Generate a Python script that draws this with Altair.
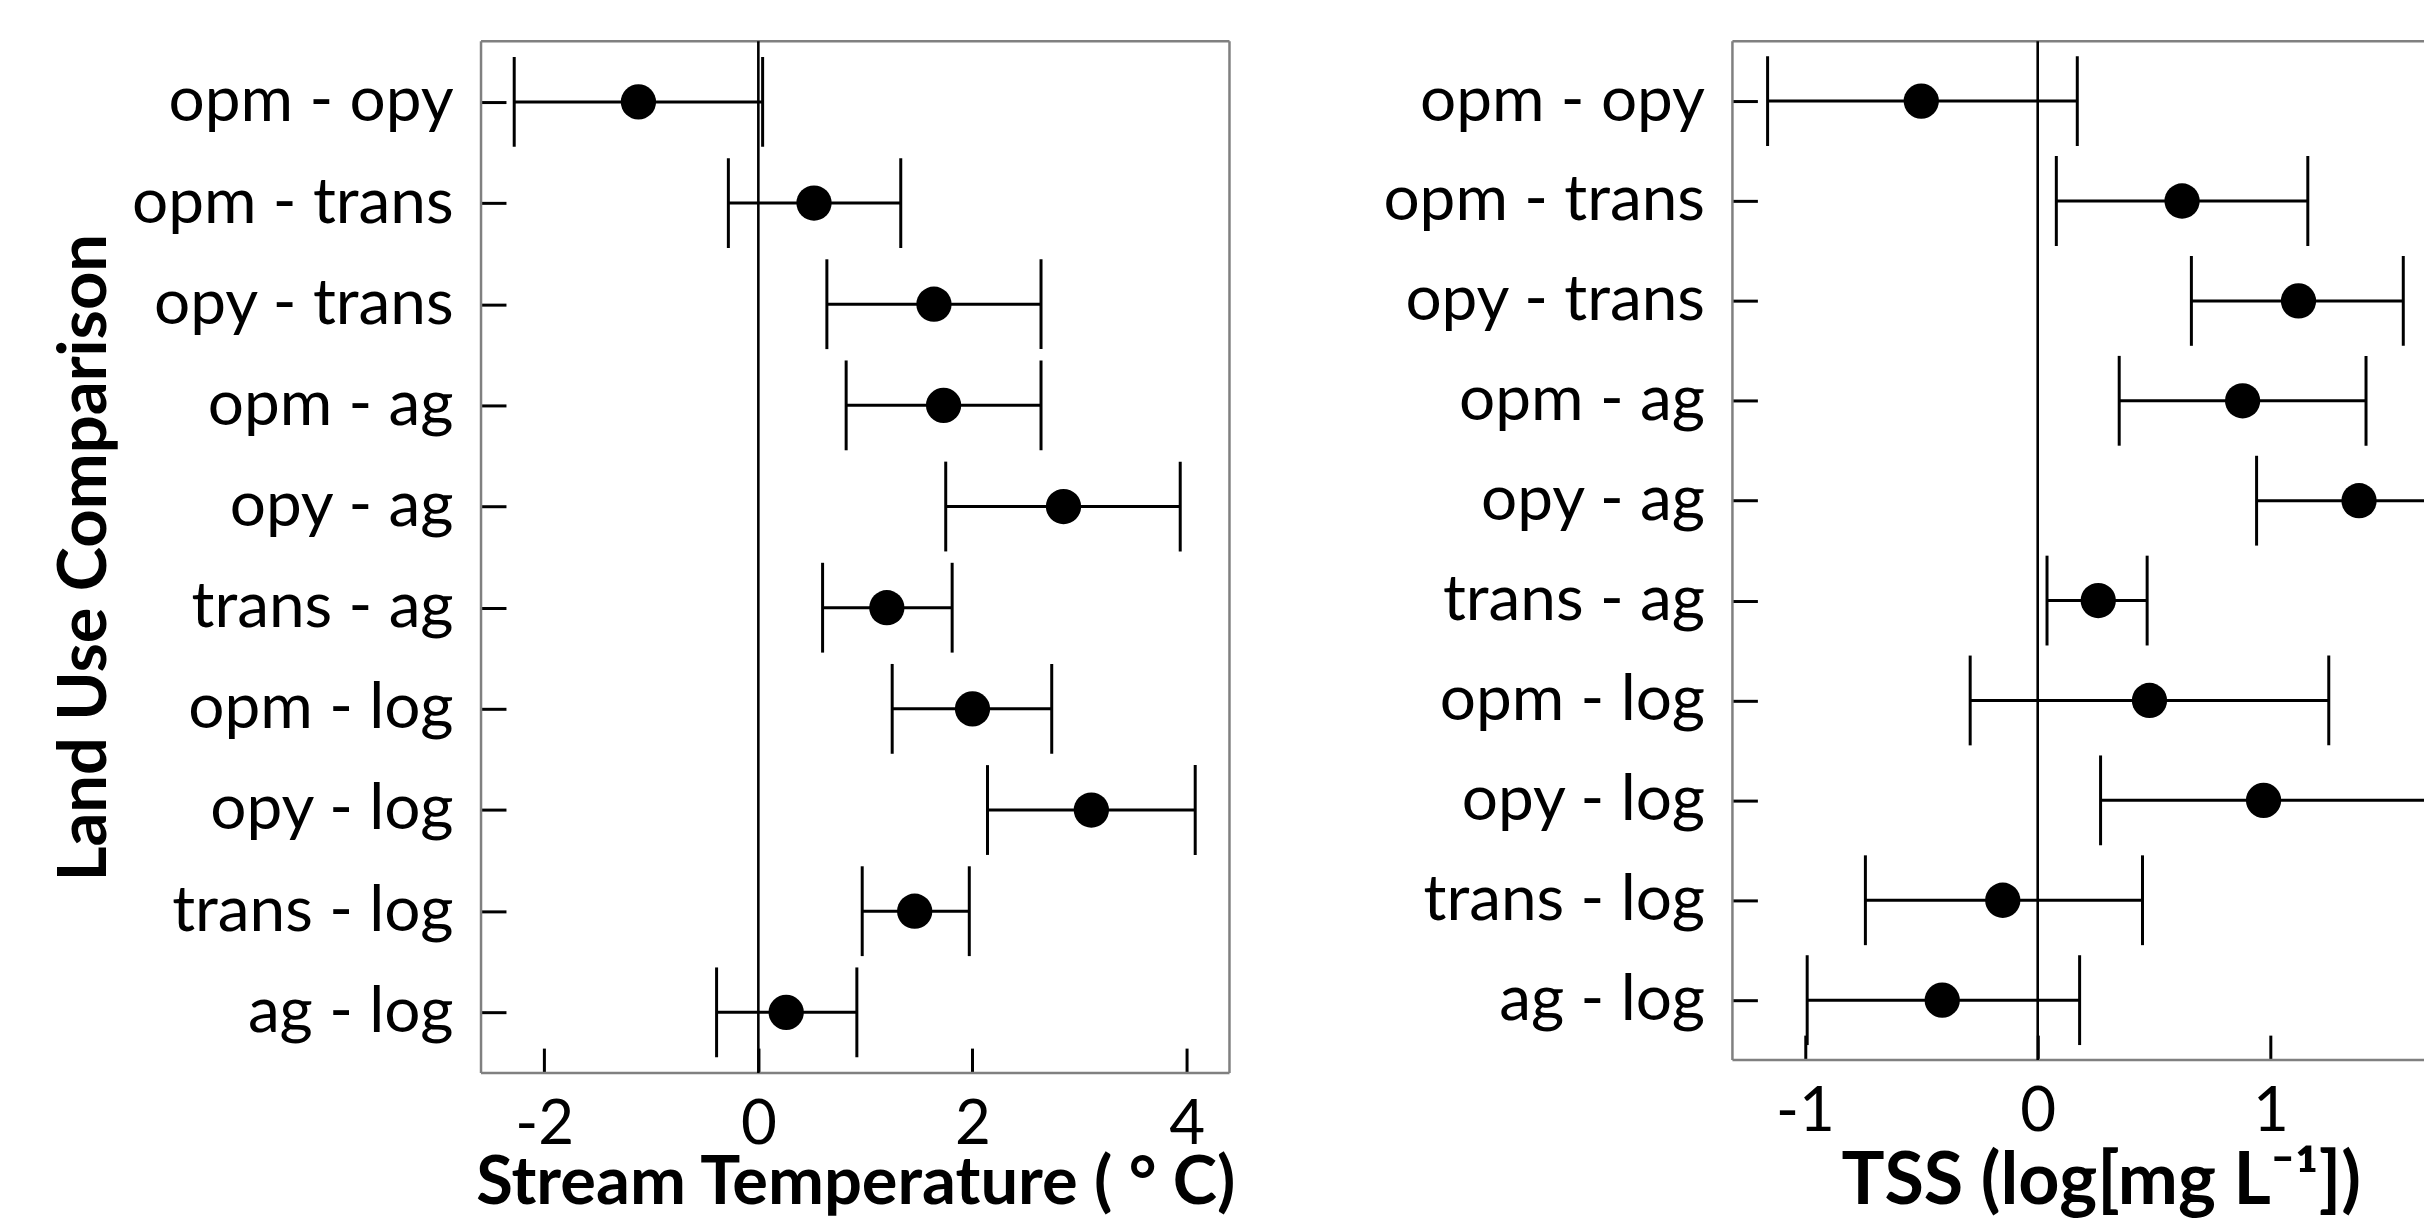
import altair as alt
import pandas as pd

comparisons = ["opm - opy", "opm - trans", "opy - trans", "opm - ag", "opy - ag",
               "trans - ag", "opm - log", "opy - log", "trans - log", "ag - log"]

temp_est = [-1.12, 0.52, 1.64, 1.73, 2.85, 1.20, 2.00, 3.11, 1.46, 0.26]
temp_lo = [-2.28, -0.28, 0.64, 0.82, 1.75, 0.60, 1.25, 2.14, 0.97, -0.39]
temp_hi = [0.04, 1.33, 2.64, 2.64, 3.94, 1.81, 2.74, 4.08, 1.97, 0.92]

tss_est = [-0.50, 0.62, 1.12, 0.88, 1.38, 0.26, 0.48, 0.97, -0.15, -0.41]
tss_lo = [-1.16, 0.08, 0.66, 0.35, 0.94, 0.04, -0.29, 0.27, -0.74, -0.99]
tss_hi = [0.17, 1.16, 1.57, 1.41, 1.81, 0.47, 1.25, 1.68, 0.45, 0.18]

temp_ticks = [-2, 0, 2, 4]
tss_ticks = [-1, 0, 1]

FONT = "Lato"
FS = 64
XFS = 62
GRAY = "#808080"


def make_panel(est, lo, hi, xdom, ticks, xtitle, ytitle, w, h, right_side,
               title_fs, title_pad, title_x=None):
    df = pd.DataFrame({"comparison": comparisons, "est": est, "lo": lo, "hi": hi})
    ysc = alt.Scale(type="point", padding=0.6, domain=comparisons)
    xsc = alt.Scale(domain=xdom, nice=False, zero=False, clamp=True)
    xk = dict(values=ticks, title=xtitle, offset=-25, tickSize=25, tickWidth=3,
              tickColor="black", domain=False, grid=False, labelFont=FONT,
              labelFontSize=XFS, labelColor="black", labelPadding=22, labelLimit=0,
              labelExpr="'' + datum.value", titleFont=FONT, titleFontSize=title_fs,
              titleFontWeight="bold", titleColor="black", titlePadding=title_pad,
              maxExtent=600)
    if title_x is not None:
        xk["titleX"] = title_x
    xax = alt.Axis(**xk)
    yk = dict(offset=-25, tickSize=25, tickWidth=3, tickColor="black", domain=False,
              grid=False, labelFont=FONT, labelFontSize=FS, labelColor="black",
              labelPadding=28, labelLimit=0, maxExtent=600)
    if ytitle:
        yk.update(title=ytitle, titleFont=FONT, titleFontSize=67, titleFontWeight="bold",
                  titleColor="black", titlePadding=12)
    else:
        yk.update(title=None)
    yax = alt.Axis(**yk)
    Y = alt.Y("comparison:N", scale=ysc, sort=comparisons, axis=yax)
    base = alt.Chart(df)

    zero = alt.Chart(pd.DataFrame({"zero": [0]})).mark_rule(
        color="black", strokeWidth=2.6).encode(x=alt.X("zero:Q", scale=xsc, axis=xax))
    bars = base.mark_rule(color="black", strokeWidth=3, clip=True).encode(
        x=alt.X("lo:Q", scale=xsc, axis=xax), x2="hi:Q", y=Y)
    cap_lo = base.transform_filter(f"datum.lo >= {xdom[0]}").mark_tick(
        color="black", thickness=3, size=90, opacity=1, clip=True).encode(
        x=alt.X("lo:Q", scale=xsc, axis=xax), y=Y)
    cap_hi = base.transform_filter(f"datum.hi <= {xdom[1]}").mark_tick(
        color="black", thickness=3, size=90, opacity=1, clip=True).encode(
        x=alt.X("hi:Q", scale=xsc, axis=xax), y=Y)
    pts = base.mark_circle(size=1250, color="black", opacity=1, clip=True).encode(
        x=alt.X("est:Q", scale=xsc, axis=xax), y=Y)

    one = alt.Chart(pd.DataFrame({"a": [0]}))
    frame = [
        one.mark_rule(color=GRAY, strokeWidth=2.5).encode(
            x=alt.value(0), x2=alt.value(w), y=alt.value(0)),
        one.mark_rule(color=GRAY, strokeWidth=2.5).encode(
            x=alt.value(0), y=alt.value(0), y2=alt.value(h)),
        one.mark_rule(color=GRAY, strokeWidth=2.5).encode(
            x=alt.value(0), x2=alt.value(w), y=alt.value(h)),
    ]
    if right_side:
        frame.append(one.mark_rule(color=GRAY, strokeWidth=2.5).encode(
            x=alt.value(w), y=alt.value(0), y2=alt.value(h)))
    layers = frame + [zero, bars, cap_lo, cap_hi, pts]
    return alt.layer(*layers).properties(width=w, height=h)


left_panel = make_panel(temp_est, temp_lo, temp_hi, [-2.59, 4.40], temp_ticks,
                        "Stream Temperature ( \u00b0 C)", "Land Use Comparison",
                        750, 1034, True, title_fs=67, title_pad=-5)
right_panel = make_panel(tss_est, tss_lo, tss_hi, [-1.311, 1.659], tss_ticks,
                         "TSS (log[mg L\u207b\u00b9])", None, 693, 1021, False,
                         title_fs=72, title_pad=4, title_x=369)

chart = alt.hconcat(left_panel, right_panel, spacing=146).properties(
    padding={"left": 43, "top": 30, "right": 0, "bottom": 0},
    background="white",
).configure_view(strokeOpacity=0)

chart.save("out.html", embed_options={"renderer": "svg", "actions": False})
